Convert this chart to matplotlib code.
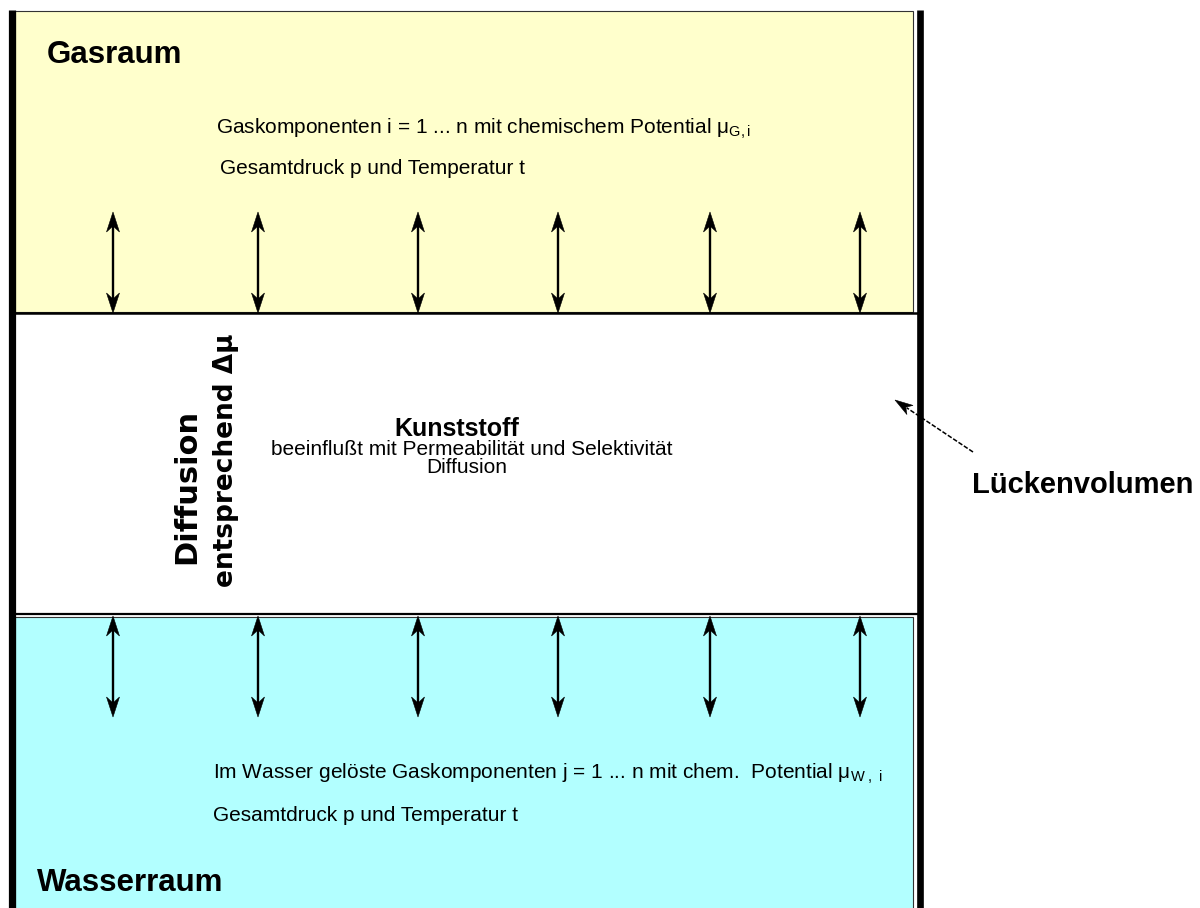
import numpy as np
import matplotlib
matplotlib.use("Agg")
import matplotlib.pyplot as plt
from matplotlib.patches import Rectangle, Polygon

plt.rcParams["font.family"] = ["Liberation Sans", "DejaVu Sans"]
plt.rcParams["mathtext.fontset"] = "custom"
plt.rcParams["mathtext.rm"] = "Liberation Sans"
plt.rcParams["mathtext.it"] = "Liberation Sans"
plt.rcParams["mathtext.default"] = "regular"

# Diagram content
ARROW_X = [113, 258, 418, 558, 710, 860]       # positions of the exchange arrows
GAS_TITLE = "Gasraum"
GAS_LINES = ["Gaskomponenten i = 1 ... n mit chemischem Potential $\\mu_{G,i}$",
             "Gesamtdruck p und Temperatur t"]
WATER_TITLE = "Wasserraum"
WATER_LINES = ["Im Wasser gelöste Gaskomponenten j = 1 ... n mit chem.  Potential $\\mu_{W\\ ,\\ i}$",
               "Gesamtdruck p und Temperatur t"]
PLASTIC_TITLE = "Kunststoff"
PLASTIC_LINES = ["beeinflußt mit Permeabilität und Selektivität", "Diffusion"]
SIDE_LINES = ["Diffusion", "entsprechend \u0394\u00b5"]
GAP_LABEL = "Lückenvolumen"

YELLOW = "#FFFFCC"
CYAN = "#B2FFFF"
W, H = 1200, 908

fig = plt.figure(figsize=(W / 100, H / 100), dpi=100)
ax = fig.add_axes([0, 0, 1, 1])
ax.set_xlim(0, W)
ax.set_ylim(H, 0)
ax.axis("off")


def head(tip, direction, length=20, half_w=6.5, notch=6):
    d = np.asarray(direction, float)
    d = d / np.hypot(*d)
    n = np.array([-d[1], d[0]])
    tip = np.asarray(tip, float)
    back = tip - d * length
    pts = [tip, back + n * half_w, tip - d * (length - notch), back - n * half_w]
    ax.add_patch(Polygon(pts, closed=True, fc="black", ec="black", lw=0.4, zorder=5))


def double_arrow(x, y0, y1):
    ax.plot([x, x], [y0 + 10, y1 - 10], color="black", lw=1.7, zorder=4)
    head((x, y0), (0, -1))
    head((x, y1), (0, 1))


# regions
ax.add_patch(Rectangle((15, 11), 898, 301, fc=YELLOW, ec="#333333", lw=0.8, zorder=1))
ax.add_patch(Rectangle((15, 617), 898, 300, fc=CYAN, ec="#333333", lw=0.8, zorder=1))
ax.plot([15, 917], [313, 313], color="black", lw=1.8, zorder=3)
ax.plot([15, 917], [614, 614], color="black", lw=1.6, zorder=3)

# walls
ax.plot([11.5, 11.5], [10, H + 5], color="black", lw=5.2, solid_capstyle="butt", zorder=6)
ax.plot([920, 920], [10, H + 5], color="black", lw=4.8, solid_capstyle="butt", zorder=6)

for x in ARROW_X:
    double_arrow(x, 212, 313)
    double_arrow(x, 616, 717)

# texts
ax.text(47, 63, GAS_TITLE, fontsize=22.5, fontweight="bold", va="baseline")
ax.text(216, 134, GAS_LINES[0], fontsize=15, va="baseline")
ax.text(220, 174, GAS_LINES[1], fontsize=15, va="baseline")

ax.text(457, 436, PLASTIC_TITLE, fontsize=18, fontweight="bold", ha="center", va="baseline")
ax.text(472, 455, PLASTIC_LINES[0], fontsize=15, ha="center", va="baseline")
ax.text(467, 473, PLASTIC_LINES[1], fontsize=15, ha="center", va="baseline")

ax.text(187, 486, SIDE_LINES[0], fontsize=22, fontweight="bold", rotation=90,
        ha="center", va="center", family=["DejaVu Sans"])
ax.text(226, 460, SIDE_LINES[1], fontsize=19, fontweight="bold", rotation=90,
        ha="center", va="center", family=["DejaVu Sans"])

ax.text(213, 779, WATER_LINES[0], fontsize=15, va="baseline")
ax.text(213, 821, WATER_LINES[1], fontsize=15, va="baseline")
ax.text(37, 891, WATER_TITLE, fontsize=22.5, fontweight="bold", va="baseline")

ax.text(972, 493, GAP_LABEL, fontsize=21, fontweight="bold", va="baseline")

# pointer to gap volume
tip = np.array([895.0, 400.0])
tail = np.array([973.0, 452.0])
ax.plot([tail[0], tip[0] + (tail - tip)[0] * 0.15], [tail[1], tip[1] + (tail - tip)[1] * 0.15],
        color="black", lw=1.1, ls=(0, (3, 1.2)), zorder=7)
head(tip, tip - tail, length=18, half_w=5.5, notch=5)

fig.savefig("out.png", dpi=100)
